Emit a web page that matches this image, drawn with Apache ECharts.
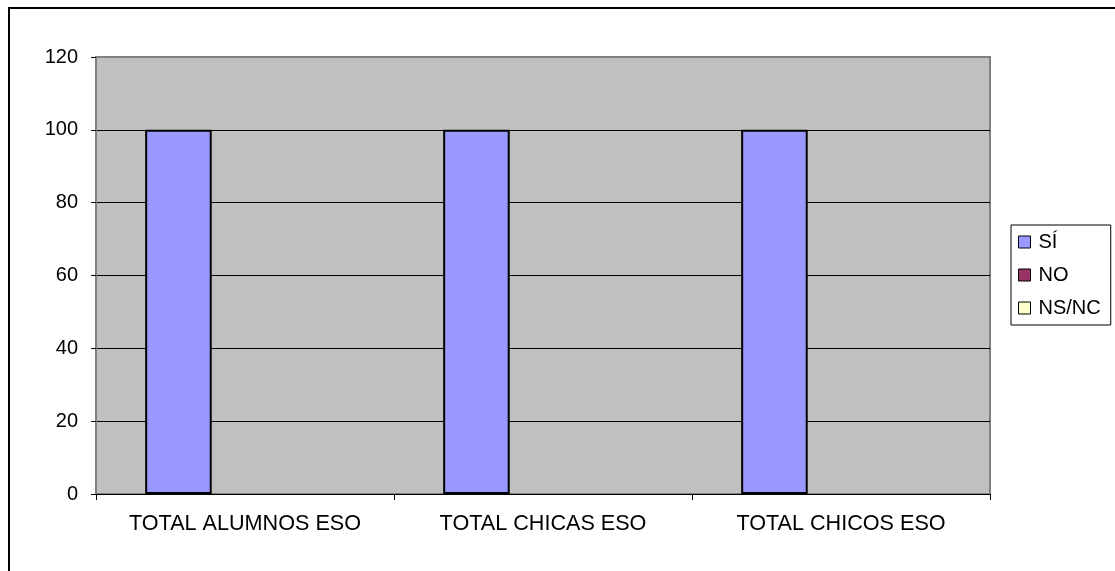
<!DOCTYPE html>
<html>
<head>
<meta charset="utf-8">
<script src="https://cdn.jsdelivr.net/npm/echarts@6/dist/echarts.min.js"></script>
<style>
html,body{margin:0;padding:0;background:#fff;}
#chart{width:1115px;height:571px;position:absolute;left:0;top:0;}
#frame{position:absolute;left:8px;top:7px;width:1200px;height:700px;border-top:2px solid #000;border-left:2px solid #000;pointer-events:none;}
</style>
</head>
<body>
<div id="chart"></div>
<div id="frame"></div>
<script>
const categories = ['TOTAL ALUMNOS ESO', 'TOTAL CHICAS ESO', 'TOTAL CHICOS ESO'];
const seriesNames = ['SÍ', 'NO', 'NS/NC'];
const siValues = [100, 100, 100];
const noValues = [0, 0, 0];
const nsncValues = [0, 0, 0];
const yTicks = { min: 0, max: 120, interval: 20 };
const colors = ['#9999FF', '#993366', '#FFFFCC'];

const font = 'Liberation Sans, Arial, sans-serif';
const chart = echarts.init(document.getElementById('chart'));
const dataSets = [siValues, noValues, nsncValues];

chart.setOption({
  animation: false,
  grid: {
    left: 96, right: 125, top: 57, bottom: 77,
    show: true, backgroundColor: '#C0C0C0', borderColor: '#808080', borderWidth: 2
  },
  legend: {
    orient: 'vertical',
    left: 1011, top: 225,
    data: seriesNames,
    icon: 'rect',
    itemWidth: 12, itemHeight: 12, itemGap: 9,
    padding: [5, 10, 5, 7],
    borderColor: '#000', borderWidth: 1, borderRadius: 0,
    backgroundColor: '#fff',
    textStyle: { fontFamily: font, fontSize: 20, color: '#000', lineHeight: 24, padding: [0, 0, 0, 3] },
    itemStyle: { borderColor: '#000', borderWidth: 1 }
  },
  xAxis: {
    type: 'category',
    data: categories,
    axisLine: { lineStyle: { color: '#000', width: 1 } },
    axisTick: { show: true, length: 6, lineStyle: { color: '#000' } },
    axisLabel: { fontFamily: font, fontSize: 21.6, color: '#000', margin: 19, interval: 0 }
  },
  yAxis: {
    type: 'value',
    min: yTicks.min, max: yTicks.max, interval: yTicks.interval,
    axisLine: { show: true, lineStyle: { color: '#808080', width: 2 } },
    axisTick: { show: true, length: 5, lineStyle: { color: '#000' } },
    axisLabel: { fontFamily: font, fontSize: 20, color: '#000', margin: 18 },
    splitLine: { show: true, lineStyle: { color: ['#000', '#000', '#000', '#000', '#000', '#000', '#808080'], width: 1 } }
  },
  series: seriesNames.map((n, i) => ({
    name: n,
    type: 'bar',
    data: dataSets[i],
    barGap: '0%',
    barCategoryGap: '33%',
    itemStyle: { color: colors[i], borderColor: '#000', borderWidth: i === 0 ? 2 : 0 }
  }))
});
</script>
</body>
</html>
